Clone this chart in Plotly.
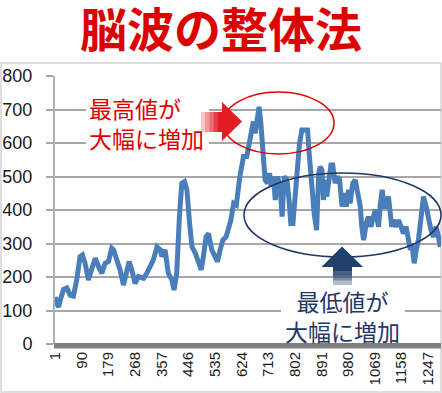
import plotly.graph_objects as go

# ---- data ----
sample_index = [1,12,18,29,40,51,62,73,84,92,101,112,124,135,146,157,168,179,190,196,
                207,218,229,240,248,257,268,279,291,296,307,318,329,341,352,357,368,379,391,398,
                407,416,424,433,441,450,458,469,480,489,496,505,513,524,535,543,552,561,572,580,
                588,597,606,617,630,641,650,658,663,669,675,682,688,695,702,710,717,722,730,736,
                744,753,759,766,775,782,788,795,803,810,817,825,844,850,858,866,874,881,886,892,
                897,903,908,914,922,928,936,944,951,959,966,973,981,986,995,1003,1009,1014,1020,1025,
                1031,1040,1047,1055,1062,1070,1075,1081,1086,1093,1100,1106,1114,1120,1125,1131,1140,1148,1155,1164,
                1173,1179,1187,1192,1200,1207,1214,1222,1231,1240,1248,1256,1264,1273,1281,1287]
wave_values = [140,110,131,163,167,146,143,191,261,266,241,191,226,256,231,211,241,246,286,281,
               251,221,176,221,246,221,181,201,196,196,211,230,251,290,281,261,281,211,191,161,
               211,380,480,485,460,360,290,271,241,221,261,320,330,281,261,246,281,310,320,350,
               370,420,415,495,560,560,609,659,664,629,659,708,659,560,490,480,510,470,500,430,
               500,460,380,500,490,430,360,360,460,519,599,639,639,560,460,390,340,509,529,519,
               430,490,440,490,534,534,480,500,490,410,450,410,460,420,480,490,460,430,410,350,
               310,360,380,350,380,400,380,350,410,460,410,410,440,380,350,370,350,370,350,330,
               350,320,281,300,241,281,310,370,440,410,370,340,320,350,320,290]
x_tick_values = [1, 90, 179, 268, 357, 446, 535, 624, 713, 802, 891, 980, 1069, 1158, 1247]
y_tick_values = [0, 100, 200, 300, 400, 500, 600, 700, 800]
title_text = "脳波の整体法"
note_high = "最高値が<br>大幅に増加"
note_low = "最低値が<br>大幅に増加"

# ---- layout geometry (pixels) ----
W, H = 442, 393
L, R, T, B = 55, 1, 76, 49
PW, PH = W - L - R, H - T - B


def px(xp):
    return (xp - L) / PW


def py(yp):
    return (H - B - yp) / PH


def path(points):
    return "M " + " L ".join(f"{px(a):.5f},{py(b):.5f}" for a, b in points) + " Z"


def prect(x0, y0, x1, y1, **kw):
    return dict(type="rect", xref="paper", yref="paper", x0=px(x0), x1=px(x1), y0=py(y1), y1=py(y0), **kw)


fig = go.Figure()
fig.add_trace(go.Scatter(x=sample_index, y=wave_values, mode="lines",
                         line=dict(color="#4a7ebb", width=5), hoverinfo="skip"))

shapes = []
# chart box
shapes.append(prect(1, 63, 441, 392, line=dict(color="#d4d4d4", width=1.5), layer="below"))
# white backing behind the two notes (hides gridlines)
shapes.append(prect(86, 94, 209, 153, fillcolor="white", line=dict(width=0), layer="above"))
shapes.append(prect(281, 286, 405, 342.5, fillcolor="white", line=dict(width=0), layer="above"))
# thick bottom axis band
shapes.append(prect(54, 343, 441, 348.5, line=dict(width=0), fillcolor="#808080", layer="above"))
# red ellipse
shapes.append(dict(type="circle", xref="paper", yref="paper", x0=px(223), x1=px(334), y0=py(154), y1=py(92),
                   line=dict(color="#e00000", width=1.5)))
# navy ellipse
shapes.append(dict(type="circle", xref="paper", yref="paper", x0=px(244), x1=px(441), y0=py(257), y1=py(173),
                   line=dict(color="#1f3864", width=1.5)))
# red arrow (right) with faded tail
red = "#e31c23"
shapes.append(dict(type="path", xref="paper", yref="paper",
                   path=path([(222, 102), (242, 121.5), (222, 141)]), fillcolor=red, line=dict(width=0)))
for i, op in enumerate([0.25, 0.45, 0.65, 0.85, 1.0]):
    x0 = 201 + i * 4.2
    shapes.append(prect(x0, 112, x0 + 4.4, 132, fillcolor=red, opacity=op, line=dict(width=0)))
# navy arrow (up) with faded tail
navy = "#223f6a"
shapes.append(dict(type="path", xref="paper", yref="paper",
                   path=path([(321.5, 267), (342, 246.5), (363, 267)]), fillcolor=navy, line=dict(width=0)))
for i, op in enumerate([1.0, 0.85, 0.6, 0.35]):
    y0 = 266.5 + i * 4.6
    shapes.append(prect(333, y0, 352, y0 + 4.8, fillcolor=navy, opacity=op, line=dict(width=0)))

annotations = [
    dict(text=f"<b>{title_text}</b>", xref="paper", yref="paper", x=px(221), y=py(26),
         xanchor="center", yanchor="middle", showarrow=False,
         font=dict(family="Noto Sans CJK JP", size=47, color="#dd0000")),
    dict(text=note_high, xref="paper", yref="paper", x=px(87), y=py(123),
         xanchor="left", yanchor="middle", align="left", showarrow=False,
         font=dict(family="Noto Sans CJK JP", size=23, color="#e00000")),
    dict(text=note_low, xref="paper", yref="paper", x=px(342), y=py(316),
         xanchor="center", yanchor="middle", align="center", showarrow=False,
         font=dict(family="Noto Sans CJK JP", size=23, color="#1f3864")),
]

fig.update_layout(
    width=W, height=H, margin=dict(l=L, r=R, t=T, b=B, autoexpand=False),
    paper_bgcolor="white", plot_bgcolor="white", showlegend=False,
    shapes=shapes, annotations=annotations,
    xaxis=dict(range=[0.5, 1289.5], tickmode="array", tickvals=x_tick_values, automargin=False,
               ticktext=[str(v) for v in x_tick_values], tickangle=-90, showgrid=False,
               zeroline=False, showline=False, ticks="", ticklabelstandoff=4,
               tickfont=dict(family="Liberation Sans", size=15, color="#1a1a1a")),
    yaxis=dict(range=[0, 800], tickmode="array", tickvals=y_tick_values, showgrid=True, automargin=False,
               gridcolor="#a6a6a6", gridwidth=1.5, zeroline=False, showline=True,
               linecolor="#b0b0b0", linewidth=2, ticks="outside", ticklen=7, tickcolor="#a6a6a6",
               tickwidth=1.5, ticklabelstandoff=10,
               tickfont=dict(family="Liberation Sans", size=18, color="#1a1a1a")),
)

fig.write_html("out.html", config={"displayModeBar": False},
               post_script="document.body.style.margin='0px';document.body.style.overflow='hidden';")
